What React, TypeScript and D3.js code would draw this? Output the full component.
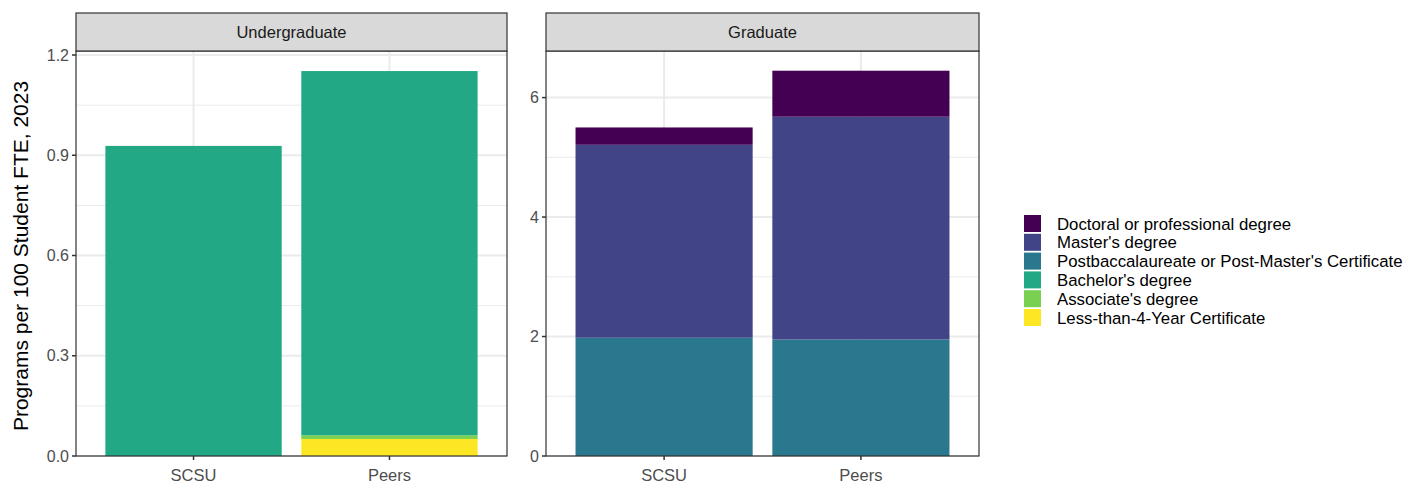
import React from "react";
import * as d3 from "d3";

const categories = ["SCSU", "Peers"];
const degreeTypes = [
  "Doctoral or professional degree",
  "Master's degree",
  "Postbaccalaureate or Post-Master's Certificate",
  "Bachelor's degree",
  "Associate's degree",
  "Less-than-4-Year Certificate",
];
const colors = ["#440154", "#414487", "#2A788E", "#22A884", "#7AD151", "#FDE725"];

// stacking order bottom -> top
const underValues: Record<string, number[]> = {
  "Less-than-4-Year Certificate": [0, 0.051],
  "Associate's degree": [0, 0.011],
  "Bachelor's degree": [0.928, 1.09],
};
const gradValues: Record<string, number[]> = {
  "Postbaccalaureate or Post-Master's Certificate": [1.98, 1.95],
  "Master's degree": [3.23, 3.73],
  "Doctoral or professional degree": [0.29, 0.77],
};
const underTicks = [0, 0.3, 0.6, 0.9, 1.2];
const gradTicks = [0, 2, 4, 6];

const W = 1409, H = 485;
const panelTop = 51, panelBottom = 456, stripTop = 13;

function Panel({ x0, x1, title, values, domainMax, ticks, fmt }: any) {
  const xs = d3.scaleLinear().domain([0.4, 2.6]).range([x0, x1]);
  const ys = d3.scaleLinear().domain([0, domainMax]).range([panelBottom, panelTop]);
  const order = [...degreeTypes].reverse().filter((k) => values[k]);
  const minor: number[] = [];
  for (let i = 0; i < ticks.length; i++) {
    const step = ticks[1] - ticks[0];
    const m = ticks[i] + step / 2;
    if (m < domainMax) minor.push(m);
  }
  const rects: any[] = [];
  categories.forEach((c, ci) => {
    let base = 0;
    order.forEach((k) => {
      const v = values[k][ci];
      const ti = degreeTypes.indexOf(k);
      if (v > 0) {
        rects.push(
          <rect key={c + k} x={xs(ci + 1 - 0.45)} width={xs(1.45) - xs(0.55)}
            y={ys(base + v)} height={ys(base) - ys(base + v)} fill={colors[ti]} />
        );
      }
      base += v;
    });
  });
  return (
    <g>
      <rect x={x0} y={panelTop} width={x1 - x0} height={panelBottom - panelTop} fill="#fff" />
      {minor.map((m) => (
        <line key={"mi" + m} x1={x0} x2={x1} y1={ys(m)} y2={ys(m)} stroke="#ebebeb" strokeWidth={1} />
      ))}
      {ticks.map((t: number) => (
        <line key={"ma" + t} x1={x0} x2={x1} y1={ys(t)} y2={ys(t)} stroke="#ebebeb" strokeWidth={2} />
      ))}
      {categories.map((c, i) => (
        <line key={"vx" + c} x1={xs(i + 1)} x2={xs(i + 1)} y1={panelTop} y2={panelBottom} stroke="#ebebeb" strokeWidth={2} />
      ))}
      {rects}
      <rect x={x0} y={panelTop} width={x1 - x0} height={panelBottom - panelTop} fill="none" stroke="#333" strokeWidth={1.2} />
      <rect x={x0} y={stripTop} width={x1 - x0} height={panelTop - stripTop} fill="#d9d9d9" stroke="#333" strokeWidth={1.2} />
      <text x={(x0 + x1) / 2} y={(stripTop + panelTop) / 2 + 6} textAnchor="middle" fontSize={16.5} fill="#1a1a1a">{title}</text>
      {ticks.map((t: number) => (
        <g key={"t" + t}>
          <line x1={x0 - 4} x2={x0} y1={ys(t)} y2={ys(t)} stroke="#333" strokeWidth={1.5} />
          <text x={x0 - 7} y={ys(t) + 5.5} textAnchor="end" fontSize={16} fill="#4d4d4d">{fmt(t)}</text>
        </g>
      ))}
      {categories.map((c, i) => (
        <g key={"xt" + c}>
          <line x1={xs(i + 1)} x2={xs(i + 1)} y1={panelBottom} y2={panelBottom + 4} stroke="#333" strokeWidth={1.5} />
          <text x={xs(i + 1)} y={panelBottom + 24.5} textAnchor="middle" fontSize={16.5} fill="#4d4d4d">{c}</text>
        </g>
      ))}
    </g>
  );
}

export default function App() {
  return (
    <svg width={W} height={H} style={{ display: "block", position: "absolute", left: 0, top: 0, fontFamily: "Liberation Sans, Arial, sans-serif" }}>
      <rect width={W} height={H} fill="#fff" />
      <text transform={`translate(28,256) rotate(-90)`} textAnchor="middle" fontSize={21} fill="#000">Programs per 100 Student FTE, 2023</text>
      <Panel x0={76} x1={507} title="Undergraduate" values={underValues} domainMax={1.212} ticks={underTicks} fmt={(t: number) => t.toFixed(1)} />
      <Panel x0={546} x1={979} title="Graduate" values={gradValues} domainMax={6.78} ticks={gradTicks} fmt={(t: number) => String(t)} />
      {degreeTypes.map((d, i) => (
        <g key={d}>
          <rect x={1024} y={215 + i * 18.8} width={17} height={17} fill={colors[i]} />
          <text x={1057} y={229.5 + i * 18.8} fontSize={16.8} fill="#000">{d}</text>
        </g>
      ))}
    </svg>
  );
}
